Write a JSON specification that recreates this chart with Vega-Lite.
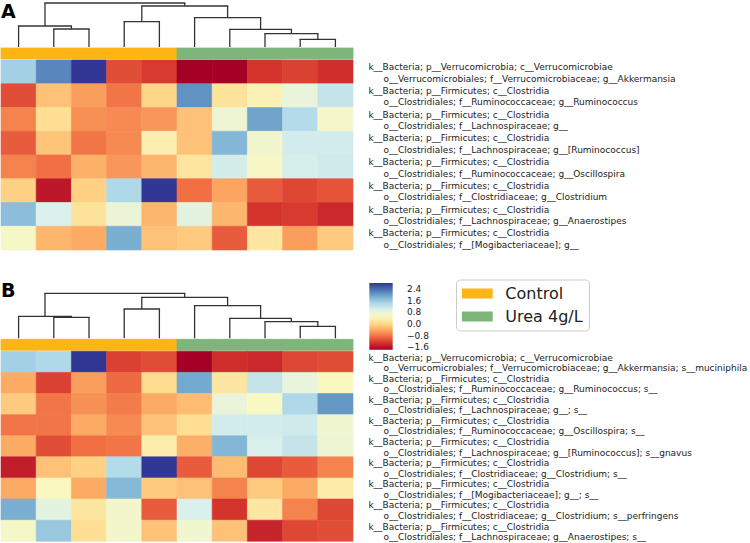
{
  "$schema": "https://vega.github.io/schema/vega-lite/v6.json",
  "padding": 0,
  "background": "white",
  "spacing": 29.3,
  "config": {"view": {"stroke": null}, "font": "DejaVu Sans"},
  "datasets": {
    "groups": [
      {"col": 1, "group": "Control"}, {"col": 2, "group": "Control"}, {"col": 3, "group": "Control"}, {"col": 4, "group": "Control"}, {"col": 5, "group": "Control"},
      {"col": 6, "group": "Urea 4g/L"}, {"col": 7, "group": "Urea 4g/L"}, {"col": 8, "group": "Urea 4g/L"}, {"col": 9, "group": "Urea 4g/L"}, {"col": 10, "group": "Urea 4g/L"}
    ],
    "dendA": [
      {"node": "n1", "xl": 1.5, "xr": 2.5, "hl": 0, "hr": 0, "h": 18},
      {"node": "n2", "xl": 0.5, "xr": 2.0, "hl": 0, "hr": 18, "h": 21},
      {"node": "n3", "xl": 3.5, "xr": 4.5, "hl": 0, "hr": 0, "h": 25.4},
      {"node": "n4", "xl": 8.5, "xr": 9.5, "hl": 0, "hr": 0, "h": 7.7},
      {"node": "n5", "xl": 7.5, "xr": 9.0, "hl": 0, "hr": 7.7, "h": 13.4},
      {"node": "n6", "xl": 6.5, "xr": 8.25, "hl": 0, "hr": 13.4, "h": 17.7},
      {"node": "n7", "xl": 5.5, "xr": 7.375, "hl": 0, "hr": 17.7, "h": 29.4},
      {"node": "n8", "xl": 4.0, "xr": 6.4375, "hl": 25.4, "hr": 29.4, "h": 41},
      {"node": "root", "xl": 1.25, "xr": 5.21875, "hl": 21, "hr": 41, "h": 44}
    ],
    "dendB": [
      {"node": "n1", "xl": 1.5, "xr": 2.5, "hl": 0, "hr": 0, "h": 21},
      {"node": "n2", "xl": 0.5, "xr": 2.0, "hl": 0, "hr": 21, "h": 22},
      {"node": "n3", "xl": 3.5, "xr": 4.5, "hl": 0, "hr": 0, "h": 29.3},
      {"node": "n4", "xl": 8.5, "xr": 9.5, "hl": 0, "hr": 0, "h": 12},
      {"node": "n5", "xl": 7.5, "xr": 9.0, "hl": 0, "hr": 12, "h": 16.6},
      {"node": "n6", "xl": 6.5, "xr": 8.25, "hl": 0, "hr": 16.6, "h": 20},
      {"node": "n7", "xl": 5.5, "xr": 7.375, "hl": 0, "hr": 20, "h": 32.6},
      {"node": "n8", "xl": 4.0, "xr": 6.4375, "hl": 29.3, "hr": 32.6, "h": 41},
      {"node": "root", "xl": 1.25, "xr": 5.21875, "hl": 22, "hr": 41, "h": 45}
    ],
    "labA": [
      {"row": 1, "l1": "k__Bacteria; p__Verrucomicrobia; c__Verrucomicrobiae", "l2": "o__Verrucomicrobiales; f__Verrucomicrobiaceae; g__Akkermansia"},
      {"row": 2, "l1": "k__Bacteria; p__Firmicutes; c__Clostridia", "l2": "o__Clostridiales; f__Ruminococcaceae; g__Ruminococcus"},
      {"row": 3, "l1": "k__Bacteria; p__Firmicutes; c__Clostridia", "l2": "o__Clostridiales; f__Lachnospiraceae; g__"},
      {"row": 4, "l1": "k__Bacteria; p__Firmicutes; c__Clostridia", "l2": "o__Clostridiales; f__Lachnospiraceae; g__[Ruminococcus]"},
      {"row": 5, "l1": "k__Bacteria; p__Firmicutes; c__Clostridia", "l2": "o__Clostridiales; f__Ruminococcaceae; g__Oscillospira"},
      {"row": 6, "l1": "k__Bacteria; p__Firmicutes; c__Clostridia", "l2": "o__Clostridiales; f__Clostridiaceae; g__Clostridium"},
      {"row": 7, "l1": "k__Bacteria; p__Firmicutes; c__Clostridia", "l2": "o__Clostridiales; f__Lachnospiraceae; g__Anaerostipes"},
      {"row": 8, "l1": "k__Bacteria; p__Firmicutes; c__Clostridia", "l2": "o__Clostridiales; f__[Mogibacteriaceae]; g__"}
    ],
    "labB": [
      {"row": 1, "l1": "k__Bacteria; p__Verrucomicrobia; c__Verrucomicrobiae", "l2": "o__Verrucomicrobiales; f__Verrucomicrobiaceae; g__Akkermansia; s__muciniphila"},
      {"row": 2, "l1": "k__Bacteria; p__Firmicutes; c__Clostridia", "l2": "o__Clostridiales; f__Ruminococcaceae; g__Ruminococcus; s__"},
      {"row": 3, "l1": "k__Bacteria; p__Firmicutes; c__Clostridia", "l2": "o__Clostridiales; f__Lachnospiraceae; g__; s__"},
      {"row": 4, "l1": "k__Bacteria; p__Firmicutes; c__Clostridia", "l2": "o__Clostridiales; f__Ruminococcaceae; g__Oscillospira; s__"},
      {"row": 5, "l1": "k__Bacteria; p__Firmicutes; c__Clostridia", "l2": "o__Clostridiales; f__Lachnospiraceae; g__[Ruminococcus]; s__gnavus"},
      {"row": 6, "l1": "k__Bacteria; p__Firmicutes; c__Clostridia", "l2": "o__Clostridiales; f__Clostridiaceae; g__Clostridium; s__"},
      {"row": 7, "l1": "k__Bacteria; p__Firmicutes; c__Clostridia", "l2": "o__Clostridiales; f__[Mogibacteriaceae]; g__; s__"},
      {"row": 8, "l1": "k__Bacteria; p__Firmicutes; c__Clostridia", "l2": "o__Clostridiales; f__Clostridiaceae; g__Clostridium; s__perfringens"},
      {"row": 9, "l1": "k__Bacteria; p__Firmicutes; c__Clostridia", "l2": "o__Clostridiales; f__Lachnospiraceae; g__Anaerostipes; s__"}
    ],
    "heatA": [
      {"row":1,"col":1,"v":1.5},{"row":1,"col":2,"v":2.2},{"row":1,"col":3,"v":2.8},{"row":1,"col":4,"v":-1.1},{"row":1,"col":5,"v":-1.25},{"row":1,"col":6,"v":-1.77},{"row":1,"col":7,"v":-1.77},{"row":1,"col":8,"v":-1.3},{"row":1,"col":9,"v":-1.2},{"row":1,"col":10,"v":-1.35},
      {"row":2,"col":1,"v":-1.1},{"row":2,"col":2,"v":-0.2},{"row":2,"col":3,"v":-0.5},{"row":2,"col":4,"v":-0.8},{"row":2,"col":5,"v":0.0},{"row":2,"col":6,"v":2.1},{"row":2,"col":7,"v":0.15},{"row":2,"col":8,"v":0.4},{"row":2,"col":9,"v":0.76},{"row":2,"col":10,"v":1.2},
      {"row":3,"col":1,"v":-0.7},{"row":3,"col":2,"v":0.1},{"row":3,"col":3,"v":-0.6},{"row":3,"col":4,"v":-0.65},{"row":3,"col":5,"v":-0.55},{"row":3,"col":6,"v":-0.2},{"row":3,"col":7,"v":0.7},{"row":3,"col":8,"v":1.95},{"row":3,"col":9,"v":1.35},{"row":3,"col":10,"v":0.6},
      {"row":4,"col":1,"v":-1.0},{"row":4,"col":2,"v":-0.17},{"row":4,"col":3,"v":-0.8},{"row":4,"col":4,"v":-0.65},{"row":4,"col":5,"v":0.35},{"row":4,"col":6,"v":-0.2},{"row":4,"col":7,"v":1.77},{"row":4,"col":8,"v":0.65},{"row":4,"col":9,"v":1.07},{"row":4,"col":10,"v":1.07},
      {"row":5,"col":1,"v":-0.7},{"row":5,"col":2,"v":-0.85},{"row":5,"col":3,"v":-0.35},{"row":5,"col":4,"v":-0.55},{"row":5,"col":5,"v":-0.3},{"row":5,"col":6,"v":0.2},{"row":5,"col":7,"v":1.05},{"row":5,"col":8,"v":0.57},{"row":5,"col":9,"v":1.03},{"row":5,"col":10,"v":1.1},
      {"row":6,"col":1,"v":-0.05},{"row":6,"col":2,"v":-1.55},{"row":6,"col":3,"v":-0.05},{"row":6,"col":4,"v":1.4},{"row":6,"col":5,"v":2.8},{"row":6,"col":6,"v":-0.85},{"row":6,"col":7,"v":-0.45},{"row":6,"col":8,"v":-1.0},{"row":6,"col":9,"v":-1.15},{"row":6,"col":10,"v":-1.05},
      {"row":7,"col":1,"v":1.7},{"row":7,"col":2,"v":0.98},{"row":7,"col":3,"v":0.15},{"row":7,"col":4,"v":0.75},{"row":7,"col":5,"v":-0.3},{"row":7,"col":6,"v":0.85},{"row":7,"col":7,"v":-0.3},{"row":7,"col":8,"v":-1.3},{"row":7,"col":9,"v":-1.25},{"row":7,"col":10,"v":-1.4},
      {"row":8,"col":1,"v":0.58},{"row":8,"col":2,"v":-0.3},{"row":8,"col":3,"v":-0.4},{"row":8,"col":4,"v":1.85},{"row":8,"col":5,"v":-0.2},{"row":8,"col":6,"v":-0.12},{"row":8,"col":7,"v":-1.0},{"row":8,"col":8,"v":0.22},{"row":8,"col":9,"v":-0.5},{"row":8,"col":10,"v":-0.12}
    ],
    "heatB": [
      {"row":1,"col":1,"v":1.5},{"row":1,"col":2,"v":1.4},{"row":1,"col":3,"v":2.8},{"row":1,"col":4,"v":-1.2},{"row":1,"col":5,"v":-1.1},{"row":1,"col":6,"v":-1.77},{"row":1,"col":7,"v":-1.35},{"row":1,"col":8,"v":-1.4},{"row":1,"col":9,"v":-1.15},{"row":1,"col":10,"v":-1.1},
      {"row":2,"col":1,"v":-0.4},{"row":2,"col":2,"v":-1.2},{"row":2,"col":3,"v":-0.5},{"row":2,"col":4,"v":-0.9},{"row":2,"col":5,"v":0.05},{"row":2,"col":6,"v":1.9},{"row":2,"col":7,"v":0.22},{"row":2,"col":8,"v":1.2},{"row":2,"col":9,"v":0.8},{"row":2,"col":10,"v":0.5},
      {"row":3,"col":1,"v":-0.12},{"row":3,"col":2,"v":-0.8},{"row":3,"col":3,"v":-0.6},{"row":3,"col":4,"v":-0.75},{"row":3,"col":5,"v":-0.4},{"row":3,"col":6,"v":-0.25},{"row":3,"col":7,"v":0.76},{"row":3,"col":8,"v":0.55},{"row":3,"col":9,"v":1.4},{"row":3,"col":10,"v":2.05},
      {"row":4,"col":1,"v":-0.8},{"row":4,"col":2,"v":-0.8},{"row":4,"col":3,"v":-0.4},{"row":4,"col":4,"v":-0.65},{"row":4,"col":5,"v":-0.2},{"row":4,"col":6,"v":0.1},{"row":4,"col":7,"v":1.07},{"row":4,"col":8,"v":1.07},{"row":4,"col":9,"v":1.1},{"row":4,"col":10,"v":0.68},
      {"row":5,"col":1,"v":-0.4},{"row":5,"col":2,"v":-1.1},{"row":5,"col":3,"v":-0.85},{"row":5,"col":4,"v":-0.8},{"row":5,"col":5,"v":0.33},{"row":5,"col":6,"v":-0.37},{"row":5,"col":7,"v":1.77},{"row":5,"col":8,"v":1.02},{"row":5,"col":9,"v":1.2},{"row":5,"col":10,"v":0.7},
      {"row":6,"col":1,"v":-1.5},{"row":6,"col":2,"v":-0.2},{"row":6,"col":3,"v":-0.05},{"row":6,"col":4,"v":1.35},{"row":6,"col":5,"v":2.8},{"row":6,"col":6,"v":-1.0},{"row":6,"col":7,"v":-0.25},{"row":6,"col":8,"v":-1.15},{"row":6,"col":9,"v":-1.0},{"row":6,"col":10,"v":-0.7},
      {"row":7,"col":1,"v":-0.4},{"row":7,"col":2,"v":0.5},{"row":7,"col":3,"v":-0.4},{"row":7,"col":4,"v":1.75},{"row":7,"col":5,"v":-0.12},{"row":7,"col":6,"v":-0.2},{"row":7,"col":7,"v":-0.7},{"row":7,"col":8,"v":-0.12},{"row":7,"col":9,"v":-0.4},{"row":7,"col":10,"v":0.3},
      {"row":8,"col":1,"v":1.85},{"row":8,"col":2,"v":0.85},{"row":8,"col":3,"v":0.22},{"row":8,"col":4,"v":0.62},{"row":8,"col":5,"v":-1.0},{"row":8,"col":6,"v":1.0},{"row":8,"col":7,"v":-1.3},{"row":8,"col":8,"v":0.22},{"row":8,"col":9,"v":-0.7},{"row":8,"col":10,"v":-1.15},
      {"row":9,"col":1,"v":0.58},{"row":9,"col":2,"v":1.6},{"row":9,"col":3,"v":0.1},{"row":9,"col":4,"v":0.62},{"row":9,"col":5,"v":-0.2},{"row":9,"col":6,"v":0.68},{"row":9,"col":7,"v":-0.2},{"row":9,"col":8,"v":-1.45},{"row":9,"col":9,"v":-1.15},{"row":9,"col":10,"v":-1.1}
    ]
  },
  "vconcat": [
    {
      "bounds": "flush",
      "spacing": 1,
      "vconcat": [
        {
          "width": 352, "height": 47,
          "layer": [
            {"data": {"name": "dendA"}, "mark": {"type": "rule", "color": "#333333", "strokeWidth": 1.3, "strokeCap": "square"},
             "encoding": {"x": {"field": "xl", "type": "quantitative", "scale": {"domain": [0, 10], "nice": false, "zero": false}, "axis": null},
                          "x2": {"field": "xr"},
                          "y": {"field": "h", "type": "quantitative", "scale": {"domain": [0, 47], "nice": false}, "axis": null}}},
            {"data": {"name": "dendA"}, "mark": {"type": "rule", "color": "#333333", "strokeWidth": 1.3},
             "encoding": {"x": {"field": "xl", "type": "quantitative"}, "y": {"field": "hl", "type": "quantitative"}, "y2": {"field": "h"}}},
            {"data": {"name": "dendA"}, "mark": {"type": "rule", "color": "#333333", "strokeWidth": 1.3},
             "encoding": {"x": {"field": "xr", "type": "quantitative"}, "y": {"field": "hr", "type": "quantitative"}, "y2": {"field": "h"}}},
            {"data": {"values": [{"t": "A"}]}, "mark": {"type": "text", "align": "left", "baseline": "middle", "fontSize": 19, "fontWeight": "bold", "font": "DejaVu Sans", "color": "black"},
             "encoding": {"x": {"datum": 0, "type": "quantitative"}, "y": {"datum": 34.8, "type": "quantitative"}, "text": {"field": "t"}}}
          ]
        },
        {
          "width": 352, "height": 11,
          "data": {"name": "groups"},
          "mark": {"type": "rect", "strokeWidth": 0.8},
          "encoding": {
            "x": {"field": "col", "type": "ordinal", "scale": {"paddingInner": 0, "paddingOuter": 0}, "axis": null},
            "stroke": {"field": "group", "type": "nominal", "scale": {"domain": ["Control", "Urea 4g/L"], "range": ["#fdb515", "#7db57b"]}, "legend": null},
            "fill": {"field": "group", "type": "nominal", "scale": {"domain": ["Control", "Urea 4g/L"], "range": ["#fdb515", "#7db57b"]},
                     "legend": {"orient": "none", "legendX": 455, "legendY": 279.5, "title": null, "symbolType": "M-1,-0.625H2.84V0.625H-1Z", "symbolSize": 256, "symbolStrokeWidth": 0, "symbolOpacity": 1, "labelFont": "DejaVu Sans", "labelFontSize": 16, "labelColor": "#222222", "labelOffset": 27.3, "rowPadding": 7, "padding": 6, "strokeColor": "#cccccc", "cornerRadius": 4, "fillColor": "white"}}
          }
        },
        {
          "width": 352, "height": 190,
          "layer": [
            {"data": {"name": "heatA"}, "mark": {"type": "rect", "strokeWidth": 0.6},
             "encoding": {
               "x": {"field": "col", "type": "ordinal", "scale": {"paddingInner": 0, "paddingOuter": 0}, "axis": null},
               "y": {"field": "row", "type": "ordinal", "scale": {"paddingInner": 0, "paddingOuter": 0}, "axis": null},
               "stroke": {"field": "v", "type": "quantitative", "scale": {"domain": [-1.77, 2.81], "scheme": "redyellowblue", "nice": false, "zero": false}, "legend": null},
               "color": {"field": "v", "type": "quantitative", "scale": {"domain": [-1.77, 2.81], "scheme": "redyellowblue", "nice": false, "zero": false},
                         "legend": {"orient": "none", "legendX": 368.3, "legendY": 283, "direction": "vertical", "gradientLength": 66.7, "gradientThickness": 23.4, "title": null, "values": [-1.6, -0.8, 0, 0.8, 1.6, 2.4], "labelExpr": "replace(format(datum.value, '.1f'), '-', '\u2212')", "labelFont": "DejaVu Sans", "labelFontSize": 9, "labelColor": "#222222", "labelOffset": 14.3, "labelOverlap": false, "gradientStrokeWidth": 0, "padding": 0}}
             }},
            {"data": {"name": "labA"}, "mark": {"type": "text", "align": "left", "baseline": "middle", "dx": 33, "dy": -4.7, "font": "DejaVu Sans", "fontSize": 9, "color": "#222222"},
             "encoding": {"x": {"datum": 10, "type": "ordinal"}, "y": {"field": "row", "type": "ordinal"}, "text": {"field": "l1"}}},
            {"data": {"name": "labA"}, "mark": {"type": "text", "align": "left", "baseline": "middle", "dx": 48, "dy": 6.7, "font": "DejaVu Sans", "fontSize": 9, "color": "#222222"},
             "encoding": {"x": {"datum": 10, "type": "ordinal"}, "y": {"field": "row", "type": "ordinal"}, "text": {"field": "l2"}}}
          ]
        }
      ]
    },
    {
      "bounds": "flush",
      "spacing": 1,
      "vconcat": [
        {
          "width": 352, "height": 58,
          "layer": [
            {"data": {"name": "dendB"}, "mark": {"type": "rule", "color": "#333333", "strokeWidth": 1.3, "strokeCap": "square"},
             "encoding": {"x": {"field": "xl", "type": "quantitative", "scale": {"domain": [0, 10], "nice": false, "zero": false}, "axis": null},
                          "x2": {"field": "xr"},
                          "y": {"field": "h", "type": "quantitative", "scale": {"domain": [0, 58], "nice": false}, "axis": null}}},
            {"data": {"name": "dendB"}, "mark": {"type": "rule", "color": "#333333", "strokeWidth": 1.3},
             "encoding": {"x": {"field": "xl", "type": "quantitative"}, "y": {"field": "hl", "type": "quantitative"}, "y2": {"field": "h"}}},
            {"data": {"name": "dendB"}, "mark": {"type": "rule", "color": "#333333", "strokeWidth": 1.3},
             "encoding": {"x": {"field": "xr", "type": "quantitative"}, "y": {"field": "hr", "type": "quantitative"}, "y2": {"field": "h"}}},
            {"data": {"values": [{"t": "B"}]}, "mark": {"type": "text", "align": "left", "baseline": "middle", "fontSize": 19, "fontWeight": "bold", "font": "DejaVu Sans", "color": "black"},
             "encoding": {"x": {"datum": 0, "type": "quantitative"}, "y": {"datum": 47.3, "type": "quantitative"}, "text": {"field": "t"}}}
          ]
        },
        {
          "width": 352, "height": 11,
          "data": {"name": "groups"},
          "mark": {"type": "rect", "strokeWidth": 0.8},
          "encoding": {
            "x": {"field": "col", "type": "ordinal", "scale": {"paddingInner": 0, "paddingOuter": 0}, "axis": null},
            "stroke": {"field": "group", "type": "nominal", "scale": {"domain": ["Control", "Urea 4g/L"], "range": ["#fdb515", "#7db57b"]}, "legend": null},
            "fill": {"field": "group", "type": "nominal", "scale": {"domain": ["Control", "Urea 4g/L"], "range": ["#fdb515", "#7db57b"]}}
          }
        },
        {
          "width": 352, "height": 190,
          "layer": [
            {"data": {"name": "heatB"}, "mark": {"type": "rect", "strokeWidth": 0.6},
             "encoding": {
               "x": {"field": "col", "type": "ordinal", "scale": {"paddingInner": 0, "paddingOuter": 0}, "axis": null},
               "y": {"field": "row", "type": "ordinal", "scale": {"paddingInner": 0, "paddingOuter": 0}, "axis": null},
               "stroke": {"field": "v", "type": "quantitative", "scale": {"domain": [-1.77, 2.81], "scheme": "redyellowblue", "nice": false, "zero": false}, "legend": null},
               "color": {"field": "v", "type": "quantitative", "scale": {"domain": [-1.77, 2.81], "scheme": "redyellowblue", "nice": false, "zero": false}}
             }},
            {"data": {"name": "labB"}, "mark": {"type": "text", "align": "left", "baseline": "middle", "dx": 33, "dy": -4.2, "font": "DejaVu Sans", "fontSize": 9, "color": "#222222"},
             "encoding": {"x": {"datum": 10, "type": "ordinal"}, "y": {"field": "row", "type": "ordinal"}, "text": {"field": "l1"}}},
            {"data": {"name": "labB"}, "mark": {"type": "text", "align": "left", "baseline": "middle", "dx": 48, "dy": 6.3, "font": "DejaVu Sans", "fontSize": 9, "color": "#222222"},
             "encoding": {"x": {"datum": 10, "type": "ordinal"}, "y": {"field": "row", "type": "ordinal"}, "text": {"field": "l2"}}}
          ]
        }
      ]
    }
  ]
}
